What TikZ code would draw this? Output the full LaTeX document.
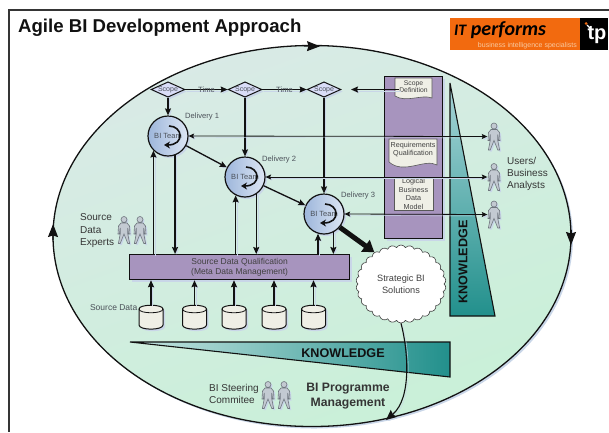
\documentclass[tikz,border=0pt]{standalone}
\usepackage{fontspec}
\setmainfont{Liberation Sans}
\newfontfamily\logofont{Carlito}
\usetikzlibrary{arrows.meta,shapes.geometric,shapes.symbols,calc,shadows}
\newcommand{\tsize}[1]{\fontsize{#1}{#1}\selectfont}
\newcommand{\figshape}{(-3,-7) -- (3,-7) -- (5.5,-4) -- (6,4) -- (4.6,4) -- (3.8,-2) -- (3.6,3) -- (5.6,13.5) -- (3.8,13.5) -- (0,4) -- (-3.8,13.5) -- (-5.6,13.5) -- (-3.6,3) -- (-3.8,-2) -- (-4.6,4) -- (-6,4) -- (-5.5,-4) -- cycle (0,-10.5) circle[radius=3pt]}
\newcommand{\drumshape}{(-12,-8) .. controls (-12,-13) and (12,-13) .. (12,-8) -- (12,8) .. controls (12,13.5) and (-12,13.5) .. (-12,8) -- cycle}
\definecolor{ink}{HTML}{111111}
\definecolor{greytxt}{HTML}{4A5058}
\definecolor{purple1}{HTML}{A794BE}
\definecolor{shadowc}{HTML}{C9D6E8}
\definecolor{paper}{HTML}{EFEFE6}
\definecolor{teal1}{HTML}{22908C}
\definecolor{A1}{HTML}{9DB6DB}
\definecolor{A2}{HTML}{DDE6F4}
\definecolor{A3}{HTML}{C3CAD2}
\definecolor{A4}{HTML}{6F767E}
\definecolor{D1}{HTML}{D9EAE6}
\definecolor{D2}{HTML}{C9F0D8}
\definecolor{O1}{HTML}{F26A0F}
\definecolor{O2}{HTML}{F8C9A0}
\definecolor{K1}{HTML}{A8D5D8}
\definecolor{K2}{HTML}{C8E6E2}
\tikzset{
  lineshadow/.style={preaction={draw=shadowc,transform canvas={xshift=1.5pt,yshift=-1.5pt}}},
  conn/.style={draw=ink,line width=1.3pt,-{Stealth[length=7pt,width=6pt,inset=1pt]},lineshadow},
  connthin/.style={draw=ink,line width=.8pt,{Stealth[length=5.5pt,width=5pt,inset=1pt]}-{Stealth[length=5.5pt,width=5pt,inset=1pt]},lineshadow},
  ringarrow/.style={draw=ink,line width=1.1pt,-{Stealth[length=13pt,width=10pt,inset=1.5pt]}},
  softshadow/.style={drop shadow={shadow xshift=2pt,shadow yshift=-2pt,fill=shadowc,opacity=1}},
  scopebox/.style={diamond,aspect=2.2,draw=ink,line width=1pt,fill=shadowc!80!blue!40!white,inner sep=0pt,text=greytxt,font=\tsize{7},minimum width=30pt,minimum height=14pt,softshadow},
  teambox/.style={circle,draw=ink,line width=1.2pt,left color=A1,right color=A2,minimum size=40pt,inner sep=0pt,text=greytxt,font=\tsize{7.5},softshadow},
  lbl/.style={inner sep=0pt,font=\tsize{7.6},text=greytxt},
  biglbl/.style={inner sep=0pt,font=\tsize{10},text=ink!85!white,align=left},
  dbox/.style={inner sep=0pt,minimum width=24pt,minimum height=24pt},
  panelbox/.style={rectangle,draw=ink,line width=1.2pt,fill=purple1,inner sep=0pt,softshadow},
  docbox/.style={inner sep=0pt,font=\tsize{6.8},align=center,text=ink!80!white},
  personbox/.style={inner sep=0pt,minimum width=13pt,minimum height=27pt},
  figure/.pic={
    \fill[shadowc,shift={(1.5,1.5)}] \figshape;
    \path[fill=A3,draw=A4,line width=.6pt] \figshape;
  },
  drum/.pic={
    \fill[shadowc,shift={(2,2)}] \drumshape;
    \path[fill=paper,draw=ink,line width=1pt] \drumshape;
    \draw[ink,line width=.8pt] (-12,-8) .. controls (-12,-3) and (12,-3) .. (12,-8);
  },
  spin/.pic={
    \draw[ink,line width=1.6pt,-{Stealth[length=6pt,width=7pt]}] (1,-10) .. controls (15,-10) and (17,9) .. (-4,9);
  }
}
\begin{document}
\begin{tikzpicture}[x=1pt,y=-1pt]
\useasboundingbox (0,0) rectangle (609,432);
% ellipse
\fill[shadowc] (314,238) ellipse[x radius=259,y radius=190.5];
\path[top color=D1,bottom color=D2,shading angle=20] (312,236) ellipse[x radius=259,y radius=190.5];
\draw[ink,line width=1.3pt] (312,236) ellipse[x radius=259,y radius=190.5];
% frame
\draw[ink!85!white,line width=1.6pt] (609,10) -- (9,10) -- (9,432);
% title
\node[anchor=base west,inner sep=0pt,font=\bfseries\tsize{18.6},text=ink] (title) at (18,32) {Agile BI Development Approach};
% logo
\node[anchor=north west,fill=O1,minimum width=130pt,minimum height=32pt,inner sep=0pt] (logo) at (450,18) {};
\node[anchor=north west,fill=black,minimum width=28pt,minimum height=32pt,inner sep=0pt] (logotp) at (580,18) {};
\node[anchor=base west,inner sep=0pt,text=black,font=\logofont\bfseries\itshape\tsize{20}] (logoname) at (454,35) {{\tsize{16}IT} performs};
\node[anchor=east,inner sep=0pt,text=O2,font=\tsize{7}] (logosub) at (577,45.5) {business intelligence specialists};
\node[inner sep=0pt,text=white,font=\bfseries\tsize{20}] (logomark) at (597,35) {tp};
\draw[white,line width=1.2pt] (587,25) -- (590,28);
\fill[O1] (586,23.5) circle[radius=1.5pt];
% knowledge triangles
\draw[ink,line width=1.1pt,top color=K1,bottom color=teal1] (450,83) -- (495,316) -- (450,316) -- cycle;
\draw[ink,line width=1.1pt,left color=K2,right color=teal1] (130,342) -- (450,342) -- (450,377) -- cycle;
\node[rotate=90,inner sep=0pt,font=\bfseries\tsize{12.6},text=ink] (kv) at (463,262) {KNOWLEDGE};
\node[inner sep=0pt,font=\bfseries\tsize{12.6},text=ink] (kh) at (343,353) {KNOWLEDGE};
% panel
\node[panelbox,anchor=north west,minimum width=58pt,minimum height=162pt] (panel) at (384,76) {};
% documents
\path[fill=paper,draw=ink!70!white,line width=.6pt] (395,78) -- (432,78) -- (432,98) .. controls (422,94) and (406,103) .. (395,96) -- cycle;
\path[fill=paper,draw=ink!70!white,line width=.6pt] (389,139) -- (437,139) -- (437,165) .. controls (425,158) and (404,175) .. (389,162) -- cycle;
\node[docbox] (sd) at (413.5,87) {Scope\\Definition};
\node[docbox,font=\tsize{7.2}] (rq) at (413,149.5) {Requirements\\Qualification};
\node[rectangle,draw=ink!70!white,fill=paper,line width=.6pt,minimum width=39pt,minimum height=32pt,inner sep=0pt,font=\tsize{7.2},align=center,text=ink!80!white] (lm) at (413.5,194) {Logical\\[1.5pt]Business\\[1.5pt]Data\\[1.5pt]Model};
% SDQ
\node[panelbox,anchor=north west,minimum width=220pt,minimum height=25pt,align=center,font=\tsize{8.5},text=ink!80!white] (sdq) at (129,254) {Source Data Qualification\\[1.8pt](Meta Data Management)};
% diamonds
\node[scopebox] (d1) at (168,89.5) {Scope};
\node[scopebox] (d2) at (245,89.5) {Scope};
\node[scopebox] (d3) at (324,89.5) {Scope};
% circles
\node[teambox] (c1) at (168,136) {BI Team};
\node[teambox] (c2) at (245,177) {BI Team};
\node[teambox] (c3) at (324,214) {BI Team};
\pic at (c1) {spin};
\pic at (c2) {spin};
\pic at (c3) {spin};
% persons
\node[personbox] (p1) at (494,136.5) {};
\node[personbox] (p2) at (494,177) {};
\node[personbox] (p3) at (494,214.5) {};
\node[personbox] (e1) at (124,230) {};
\node[personbox] (e2) at (140,230) {};
\node[personbox] (s1) at (268,395) {};
\node[personbox] (s2) at (284,395) {};
\foreach \n in {p1,p2,p3,e1,e2,s1,s2} \pic at (\n) {figure};
% databases
\node[dbox] (db1) at (151,317) {};
\node[dbox] (db2) at (194.5,317) {};
\node[dbox] (db3) at (234,317) {};
\node[dbox] (db4) at (274,317) {};
\node[dbox] (db5) at (313.5,317) {};
\foreach \n in {db1,db2,db3,db4,db5} \pic at (\n) {drum};
% cloud
\node[cloud,cloud puffs=30,cloud puff arc=120,cloud ignores aspect,draw=ink!80!white,line width=.6pt,fill=white,minimum width=90pt,minimum height=78pt,inner sep=0pt,align=center,font=\tsize{9.2},text=ink!80!white] (cl) at (401,284) {Strategic BI\\[3pt]Solutions};
% scope connectors
\draw[conn] (d1) -- (c1);
\draw[conn] (d2) -- (c2);
\draw[conn] (d3) -- (c3);
\draw[conn,line width=.7pt] (d1) -- node[lbl] (t1) {Time} (d2);
\draw[conn,line width=.7pt] (d2) -- node[lbl] (t2) {Time} (d3);
\coordinate (sdend) at (351,89.5);
\draw[conn] (sd.west |- sdend) -- (sdend);
% team to team
\draw[conn] (c1) -- (c2);
\draw[conn] (c2) -- (c3);
% team to users
\draw[connthin] (c1.east) -- (p1.west);
\draw[connthin] (c2.east) -- (p2.west);
\draw[connthin] (c3.east) -- (p3.west);
% team and SDQ
\draw[conn] (c1.225 |- sdq.north) -- (c1.225);
\draw[conn] (c1.290) -- (c1.290 |- sdq.north);
\draw[conn] (c2.243 |- sdq.north) -- (c2.243);
\draw[conn] (c2.303) -- (c2.303 |- sdq.north);
\draw[conn] (c3.253 |- sdq.north) -- (c3.253);
\draw[conn] (c3.297) -- (c3.297 |- sdq.north);
% db to SDQ
\foreach \n in {db1,db2,db3,db4,db5} \draw[conn] (\n.north) -- (\n.north |- sdq.south);
% big arrow
\draw[draw=ink,line width=5pt,-{Triangle[length=11pt,width=14pt]}] (c3.-40) -- (cl.130);
% cloud to cycle
\coordinate (cycleend) at (386,420);
\draw[draw=ink,line width=1.1pt,-{Stealth[length=10pt,width=9pt,inset=1pt]},lineshadow] (cl.south) .. controls (408,350) and (412,398) .. (cycleend);
% ellipse arrows
\coordinate (ea1) at (304,46.1);
\coordinate (ea2) at (320,46.3);
\draw[ringarrow] (ea1) -- (ea2);
\coordinate (eb1) at (53,240);
\coordinate (eb2) at (53.1,224);
\draw[ringarrow] (eb1) -- (eb2);
\coordinate (ec1) at (571,230);
\coordinate (ec2) at (571,245);
\draw[ringarrow] (ec1) -- (ec2);
% labels
\node[lbl,anchor=west] (l1) at (185,116.5) {Delivery 1};
\node[lbl,anchor=west] (l2) at (262,160) {Delivery 2};
\node[lbl,anchor=west] (l3) at (341,196) {Delivery 3};
\node[biglbl,anchor=west] (users) at (507,174) {Users/\\[2pt]Business\\[2pt]Analysts};
\node[biglbl,anchor=west] (exp) at (80,231) {Source\\[2.5pt]Data\\[2.5pt]Experts};
\node[biglbl,anchor=west] (steer) at (209,394) {BI Steering\\[2pt]Commitee};
\node[inner sep=0pt,font=\bfseries\tsize{12.2},text=ink!85!white,align=center] (prog) at (348,396) {BI Programme\\[3pt]Management};
\node[lbl,anchor=east,font=\tsize{8.5}] (srcd) at (137.5,308) {Source Data};
\end{tikzpicture}
\end{document}
